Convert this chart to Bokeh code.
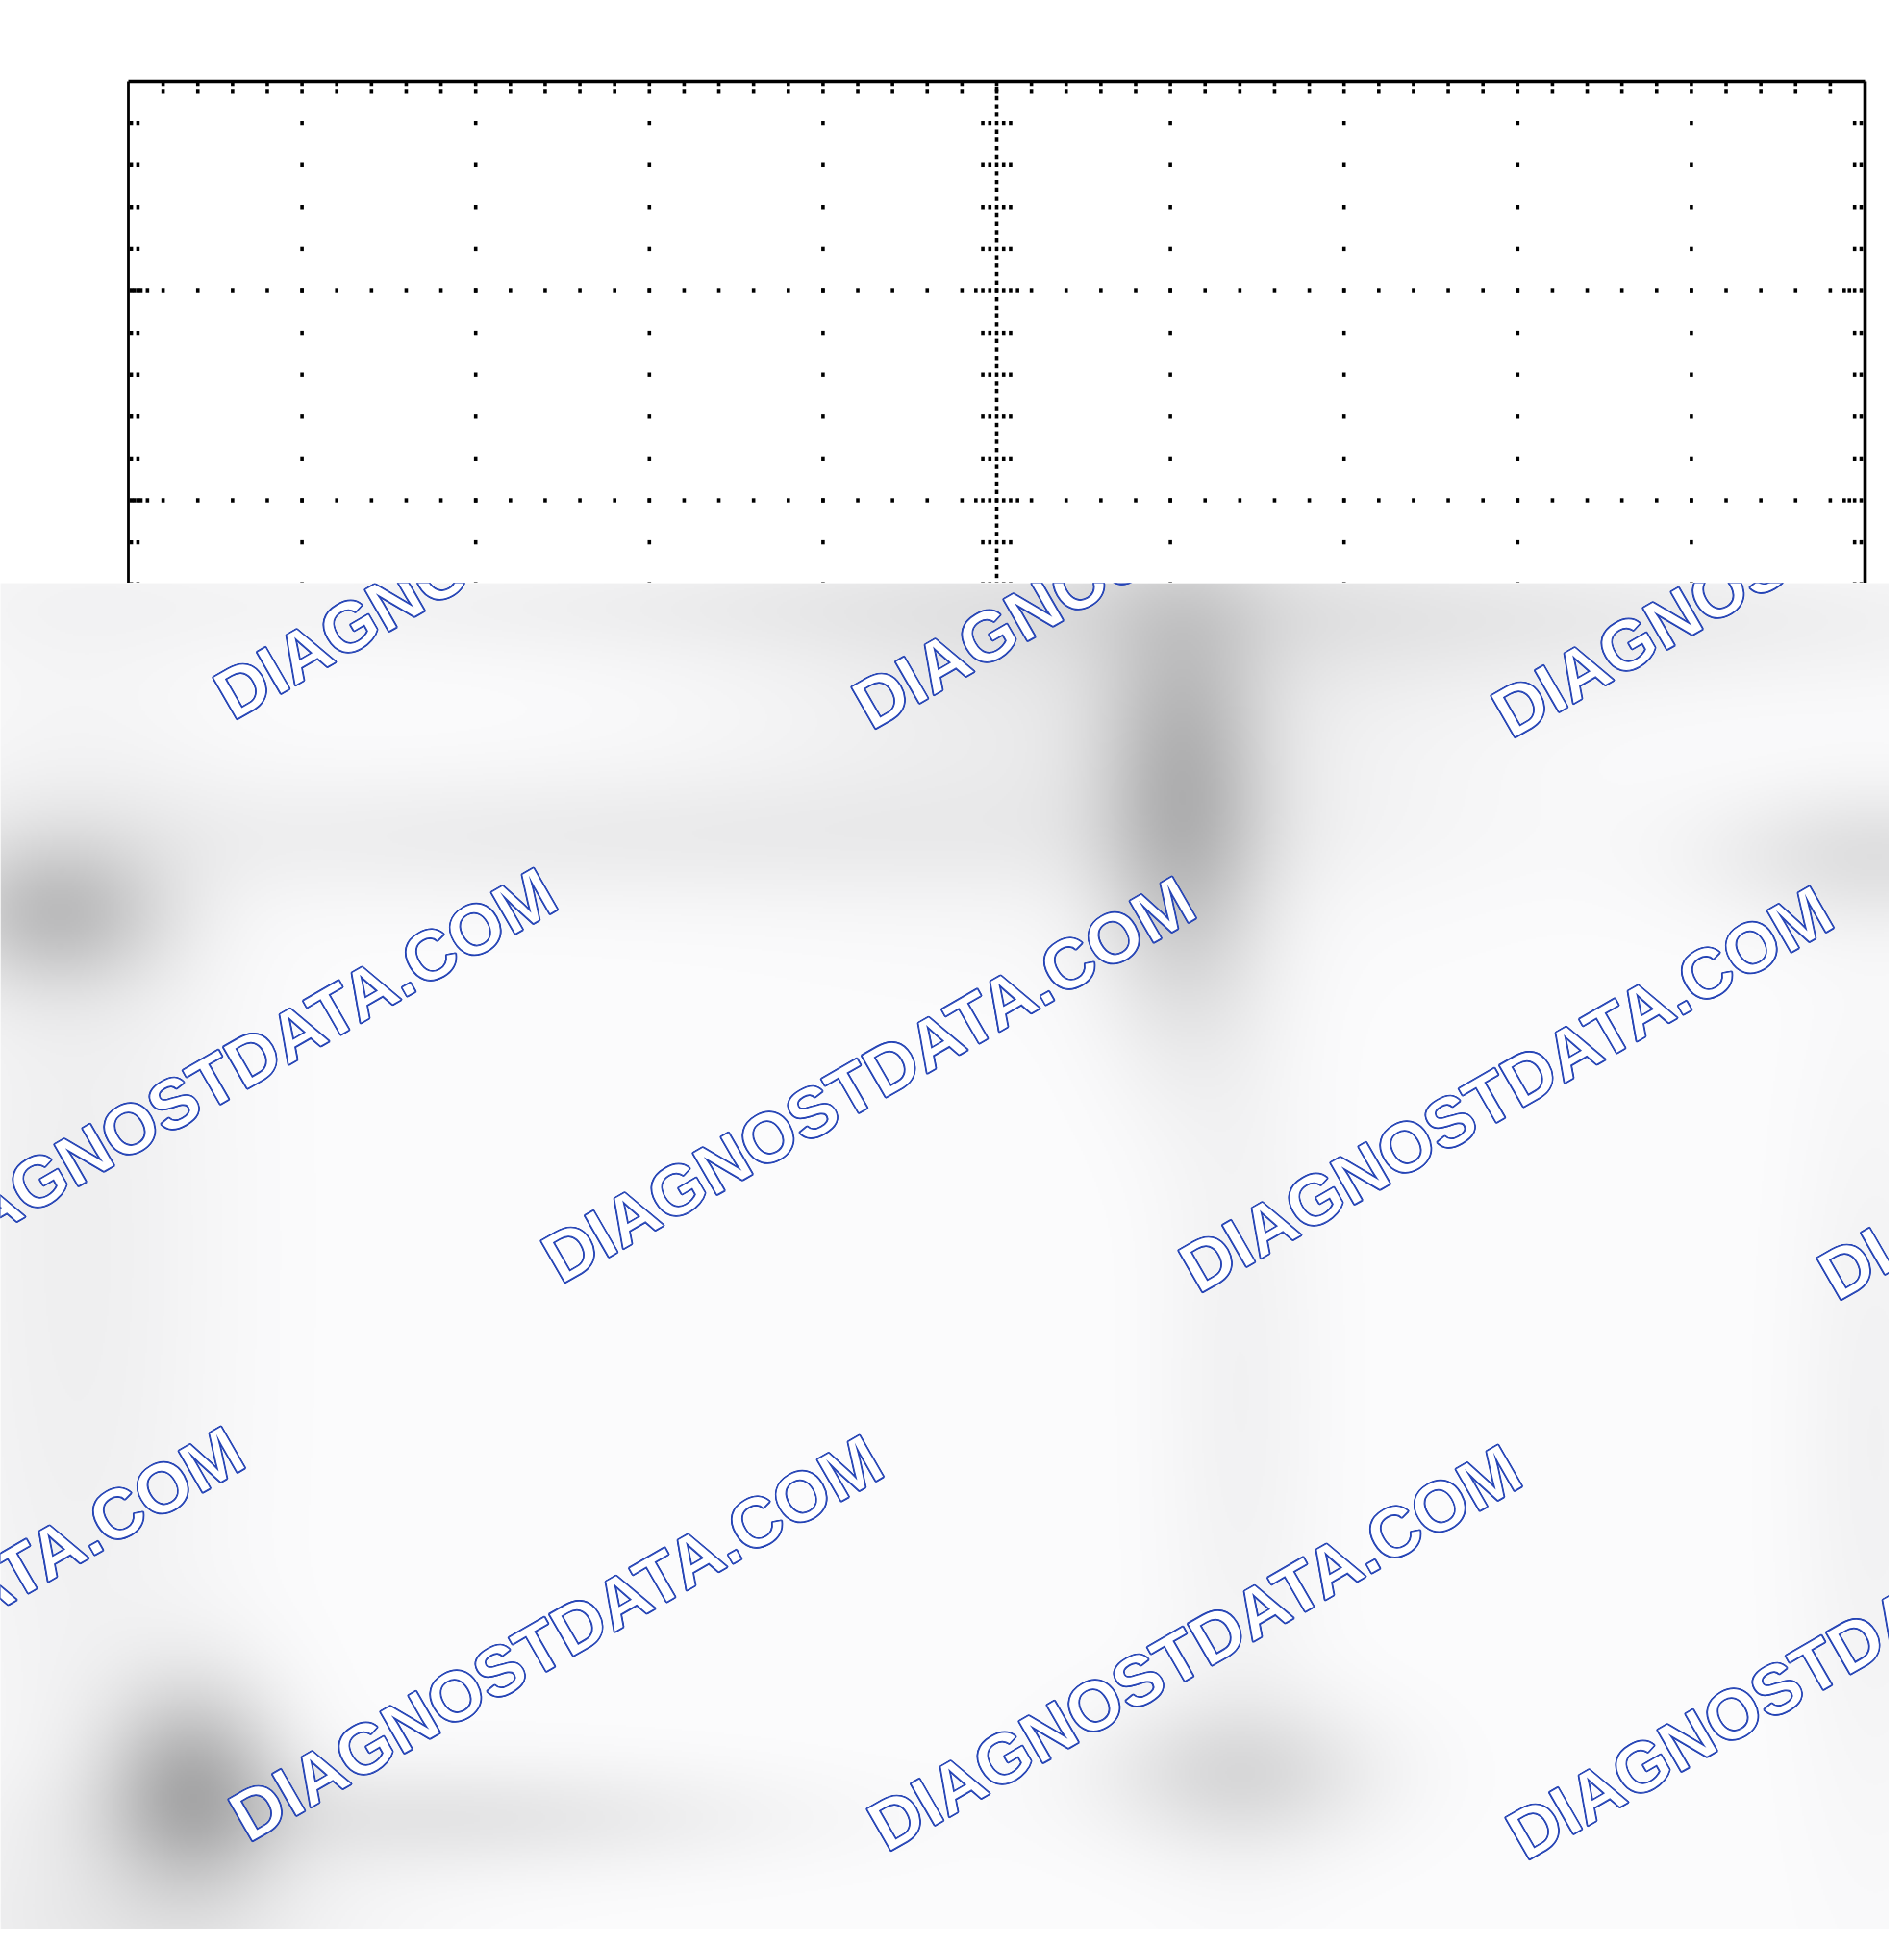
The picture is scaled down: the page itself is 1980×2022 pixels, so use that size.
import numpy as np
from bokeh.plotting import figure
from bokeh.layouts import column
from bokeh.models import Range1d
from bokeh.core.properties import value
from bokeh.embed import file_html
from bokeh.resources import INLINE

# ---------------- graticule (oscilloscope screen, in divisions) ----------------
X_MAJOR = [-4, -3, -2, -1, 1, 2, 3, 4]          # dotted vertical lines
Y_MAJOR = [3, 2, 1, -1, -2, -3]                 # dotted horizontal lines
X_EDGES = [-5, 5]
Y_TOP = 4
Y_BOTTOM = -4
MINOR_STEP = 0.2
CENTER_STEP = 0.04
CENTER_TICK_OFFSETS = [-0.08, -0.04, 0.04, 0.08]
TOP_TICK_OFFSETS = [0.012, 0.05]
LEFT_TICK_OFFSETS = [0.017, 0.055]
RIGHT_TICK_OFFSETS = [0.022, 0.06]
LEFT_LINE_END_OFFSETS = [0.035, 0.072, 0.11]
RIGHT_LINE_END_OFFSETS = [0.09, 0.12]
CENTER_CROSS_OFFSETS = [-0.12, 0.12]

# ---------------- watermark (pixel position of each text's start) -------------
WM_TEXT = "DIAGNOSTDATA.COM"
WM_X = [229, 893, 1558, -94, 570, 1233, 1897, -419, 245, 909, 1573]
WM_Y = [728, 738, 747, 1305, 1314, 1324, 1332, 1886, 1895, 1905, 1914]
WM_ANGLE_DEG = 30
WM_COLOR = "#2443b5"

# ---------------- blurred shadows on the cover sheet --------------------------
BLOB_X = [1230, 1150, 60, 600, 1000, 200, 470, 1290, 1950, 1290, 80, 1950, 1600, 150]
BLOB_Y = [830, 720, 950, 870, 630, 1860, 1890, 1845, 890, 1450, 1300, 1500, 660, 2000]
BLOB_SX = [62, 260, 80, 450, 650, 65, 230, 100, 120, 60, 110, 60, 400, 170]
BLOB_SY = [150, 140, 55, 50, 40, 75, 40, 55, 50, 300, 500, 300, 50, 70]
BLOB_DEPTH = [0.26, 0.07, 0.22, 0.06, 0.05, 0.30, 0.09, 0.13, 0.11, 0.04, 0.05, 0.04, 0.04, 0.06]

FIG_W, FIG_H = 1964, 2006        # drawable page size (pixels = picture pixels)
SPLIT = 606                      # y where the cover sheet begins
TOP_H = SPLIT
BOT_H = FIG_H - TOP_H

# pixel geometry of the graticule box
BOX_L, BOX_R, BOX_T = 133, 1939, 84
DIV_W = (BOX_R - BOX_L) / 10.0
DIV_H = 218.0

x0 = X_EDGES[0] - BOX_L / DIV_W
x1 = X_EDGES[1] + (FIG_W - BOX_R) / DIV_W
y1 = Y_TOP + BOX_T / DIV_H
y0 = Y_TOP - (SPLIT - BOX_T) / DIV_H

top = figure(width=FIG_W, height=TOP_H, x_range=Range1d(x0, x1), y_range=Range1d(y0, y1),
             output_backend="svg", toolbar_location=None, min_border=0)
top.axis.visible = False
top.grid.visible = False
top.outline_line_color = None
top.background_fill_color = "white"
top.border_fill_color = "white"

dx, dy = [], []
n_y = int(round((Y_TOP - Y_BOTTOM) / MINOR_STEP))
n_x = int(round((X_EDGES[1] - X_EDGES[0]) / MINOR_STEP))
ys_minor = [Y_TOP - MINOR_STEP * k for k in range(1, n_y)]
xs_minor = [X_EDGES[0] + MINOR_STEP * k for k in range(1, n_x)]

for xv in X_MAJOR:                       # dotted vertical lines
    for yv in ys_minor:
        dx.append(xv); dy.append(yv)
for yv in Y_MAJOR + [0]:                 # dotted horizontal lines
    for xv in xs_minor:
        dx.append(xv); dy.append(yv)
    for o in LEFT_LINE_END_OFFSETS:
        dx.append(X_EDGES[0] + o); dy.append(yv)
    for o in RIGHT_LINE_END_OFFSETS:
        dx.append(X_EDGES[1] - o); dy.append(yv)
    for o in CENTER_CROSS_OFFSETS:
        dx.append(o); dy.append(yv)
n_c = int(round((Y_TOP - Y_BOTTOM) / CENTER_STEP))   # centre vertical axis
for k in range(1, n_c):
    dx.append(0); dy.append(Y_TOP - CENTER_STEP * k)
for yv in ys_minor:
    for o in CENTER_TICK_OFFSETS:
        dx.append(o); dy.append(yv)
n_cx = int(round((X_EDGES[1] - X_EDGES[0]) / CENTER_STEP))  # centre horizontal axis
for k in range(1, n_cx):
    dx.append(X_EDGES[0] + CENTER_STEP * k); dy.append(0)
for xv in xs_minor:
    for o in CENTER_TICK_OFFSETS:
        dx.append(xv); dy.append(o * DIV_W / DIV_H)
for xv in xs_minor:                      # edge ticks
    for o in TOP_TICK_OFFSETS:
        dx.append(xv); dy.append(Y_TOP - o)
for yv in ys_minor:
    for o in LEFT_TICK_OFFSETS:
        dx.append(X_EDGES[0] + o); dy.append(yv)
    for o in RIGHT_TICK_OFFSETS:
        dx.append(X_EDGES[1] - o); dy.append(yv)

top.rect(x=dx, y=dy, width=3.6, height=4.4, width_units="screen", height_units="screen",
         fill_color="black", line_color=None)

top.line(x=[X_EDGES[0], X_EDGES[1]], y=[Y_TOP, Y_TOP], line_color="black", line_width=3.4)
top.line(x=[X_EDGES[0], X_EDGES[0]], y=[Y_TOP, Y_BOTTOM], line_color="black", line_width=2.8)
top.line(x=[X_EDGES[1], X_EDGES[1]], y=[Y_TOP, Y_BOTTOM], line_color="black", line_width=3.6)

# ---------------- cover sheet with watermark ----------------
bot = figure(width=FIG_W, height=BOT_H, x_range=Range1d(0, FIG_W), y_range=Range1d(-FIG_H, -SPLIT),
             output_backend="svg", toolbar_location=None, min_border=0)
bot.axis.visible = False
bot.grid.visible = False
bot.outline_line_color = None
bot.background_fill_color = "#fbfbfb"
bot.border_fill_color = "white"

RES = 2
IW, IH = FIG_W // RES, BOT_H // RES
px = (np.arange(IW) + 0.5) * RES
py = FIG_H - (np.arange(IH) + 0.5) * RES
PX, PY = np.meshgrid(px, py)
shade = np.ones((IH, IW))
for bx, by, sx, sy, d in zip(BLOB_X, BLOB_Y, BLOB_SX, BLOB_SY, BLOB_DEPTH):
    g = np.exp(-0.5 * (((PX - bx) / sx) ** 2 + ((PY - by) / sy) ** 2))
    shade *= (1 - d * g)
level = np.clip(252 * shade, 0, 255).astype(np.uint8)
img = np.empty((IH, IW), dtype=np.uint32)
view = img.view(dtype=np.uint8).reshape((IH, IW, 4))
view[:, :, 0] = level
view[:, :, 1] = level
view[:, :, 2] = np.clip(level.astype(int) + 1, 0, 255).astype(np.uint8)
view[:, :, 3] = 255
bot.image_rgba(image=[img], x=0, y=-FIG_H, dw=FIG_W, dh=BOT_H)

wm_common = dict(x=WM_X, y=[-v for v in WM_Y], text=[WM_TEXT] * len(WM_X),
                 angle=np.deg2rad(WM_ANGLE_DEG), text_font=value("Liberation Sans"),
                 text_font_style="bold", text_font_size="73px",
                 text_align="left", text_baseline="alphabetic")
# outline of the hollow letters: blue copies nudged around the white letters
R = 1.2
for ox, oy in [(R, 0), (-R, 0), (0, R), (0, -R), (0.7 * R, 0.7 * R), (-0.7 * R, 0.7 * R),
               (0.7 * R, -0.7 * R), (-0.7 * R, -0.7 * R)]:
    bot.text(x_offset=ox, y_offset=oy, text_color=WM_COLOR, **wm_common)
bot.text(text_color="white", text_outline_color=WM_COLOR, **wm_common)

layout = column(top, bot, spacing=0)
open("out.html", "w").write(file_html(layout, INLINE))
